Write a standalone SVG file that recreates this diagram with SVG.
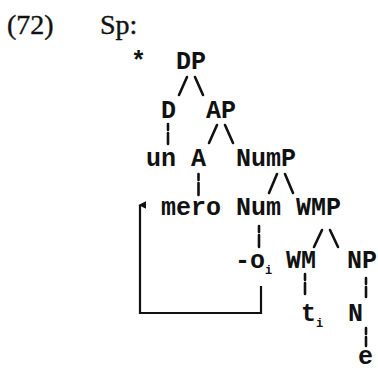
<svg xmlns="http://www.w3.org/2000/svg" width="378" height="371" viewBox="0 0 378 371">
<style>
.ser{font-family:"Liberation Serif","Times New Roman",serif;font-size:28px;fill:#111;stroke:#111;stroke-width:0.4}
.mono{font-family:"Liberation Mono","Courier New",monospace;font-size:25px;font-weight:bold;fill:#111}
.sub{font-family:"Liberation Mono","Courier New",monospace;font-size:12px;font-weight:bold;fill:#111}
.c{stroke:#111;stroke-width:2.6;stroke-linecap:round;fill:none}
.br{stroke:#111;stroke-width:2.2;fill:none}
</style>
<defs>
<marker id="ah" viewBox="0 0 10 10" refX="5" refY="2" markerWidth="8" markerHeight="8" markerUnits="userSpaceOnUse" orient="auto-start-reverse">
<path d="M0,10 L5,0 L10,10 Z" fill="#111"/>
</marker>
</defs>
<rect width="378" height="371" fill="#fff"/>
<g id="label">
<text class="ser" x="7" y="34">(72)</text>
<text class="ser" x="100" y="34">Sp:</text>
<text class="mono" x="131" y="69">*</text>
</g>
<g id="n-DP"><text class="mono" x="176" y="69">DP</text></g>
<g id="n-D"><text class="mono" x="161" y="118">D</text></g>
<g id="n-AP"><text class="mono" x="206" y="118">AP</text></g>
<g id="n-un"><text class="mono" x="146" y="166">un</text></g>
<g id="n-A"><text class="mono" x="191" y="166">A</text></g>
<g id="n-NumP"><text class="mono" x="236" y="166">NumP</text></g>
<g id="n-mero"><text class="mono" x="161" y="215">mero</text></g>
<g id="n-Num"><text class="mono" x="236" y="215">Num</text></g>
<g id="n-WMP"><text class="mono" x="296" y="215">WMP</text></g>
<g id="n-o"><text class="mono" x="235" y="268">-o</text><text class="sub" x="265" y="274">i</text></g>
<g id="n-WM"><text class="mono" x="286" y="268">WM</text></g>
<g id="n-NP"><text class="mono" x="347" y="268">NP</text></g>
<g id="n-t"><text class="mono" x="301" y="321">t</text><text class="sub" x="316" y="327">i</text></g>
<g id="n-N"><text class="mono" x="348" y="321">N</text></g>
<g id="n-e"><text class="mono" x="358" y="364">e</text></g>
<g id="connectors">
<path class="c" d="M179,95 L187,77 M195,77 L203,95"/>
<path class="c" d="M209,143 L217,125 M225,125 L233,143"/>
<path class="c" d="M269,193 L277,174 M285,174 L293,193"/>
<path class="c" d="M314,247 L322,230 M330,230 L338,247"/>
<path class="c" d="M168,124 V130 M168,133 V144"/>
<path class="c" d="M198.5,174 V180 M198.5,183 V195"/>
<path class="c" d="M259,226 V232 M259,235 V247"/>
<path class="c" d="M305,274 V280 M305,283 V294"/>
<path class="c" d="M366,278 V284 M366,287 V297"/>
<path class="c" d="M366,328 V334 M366,337 V346"/>
<path class="br" d="M261,286 V313 H140 V205" marker-end="url(#ah)"/>
</g>
</svg>
